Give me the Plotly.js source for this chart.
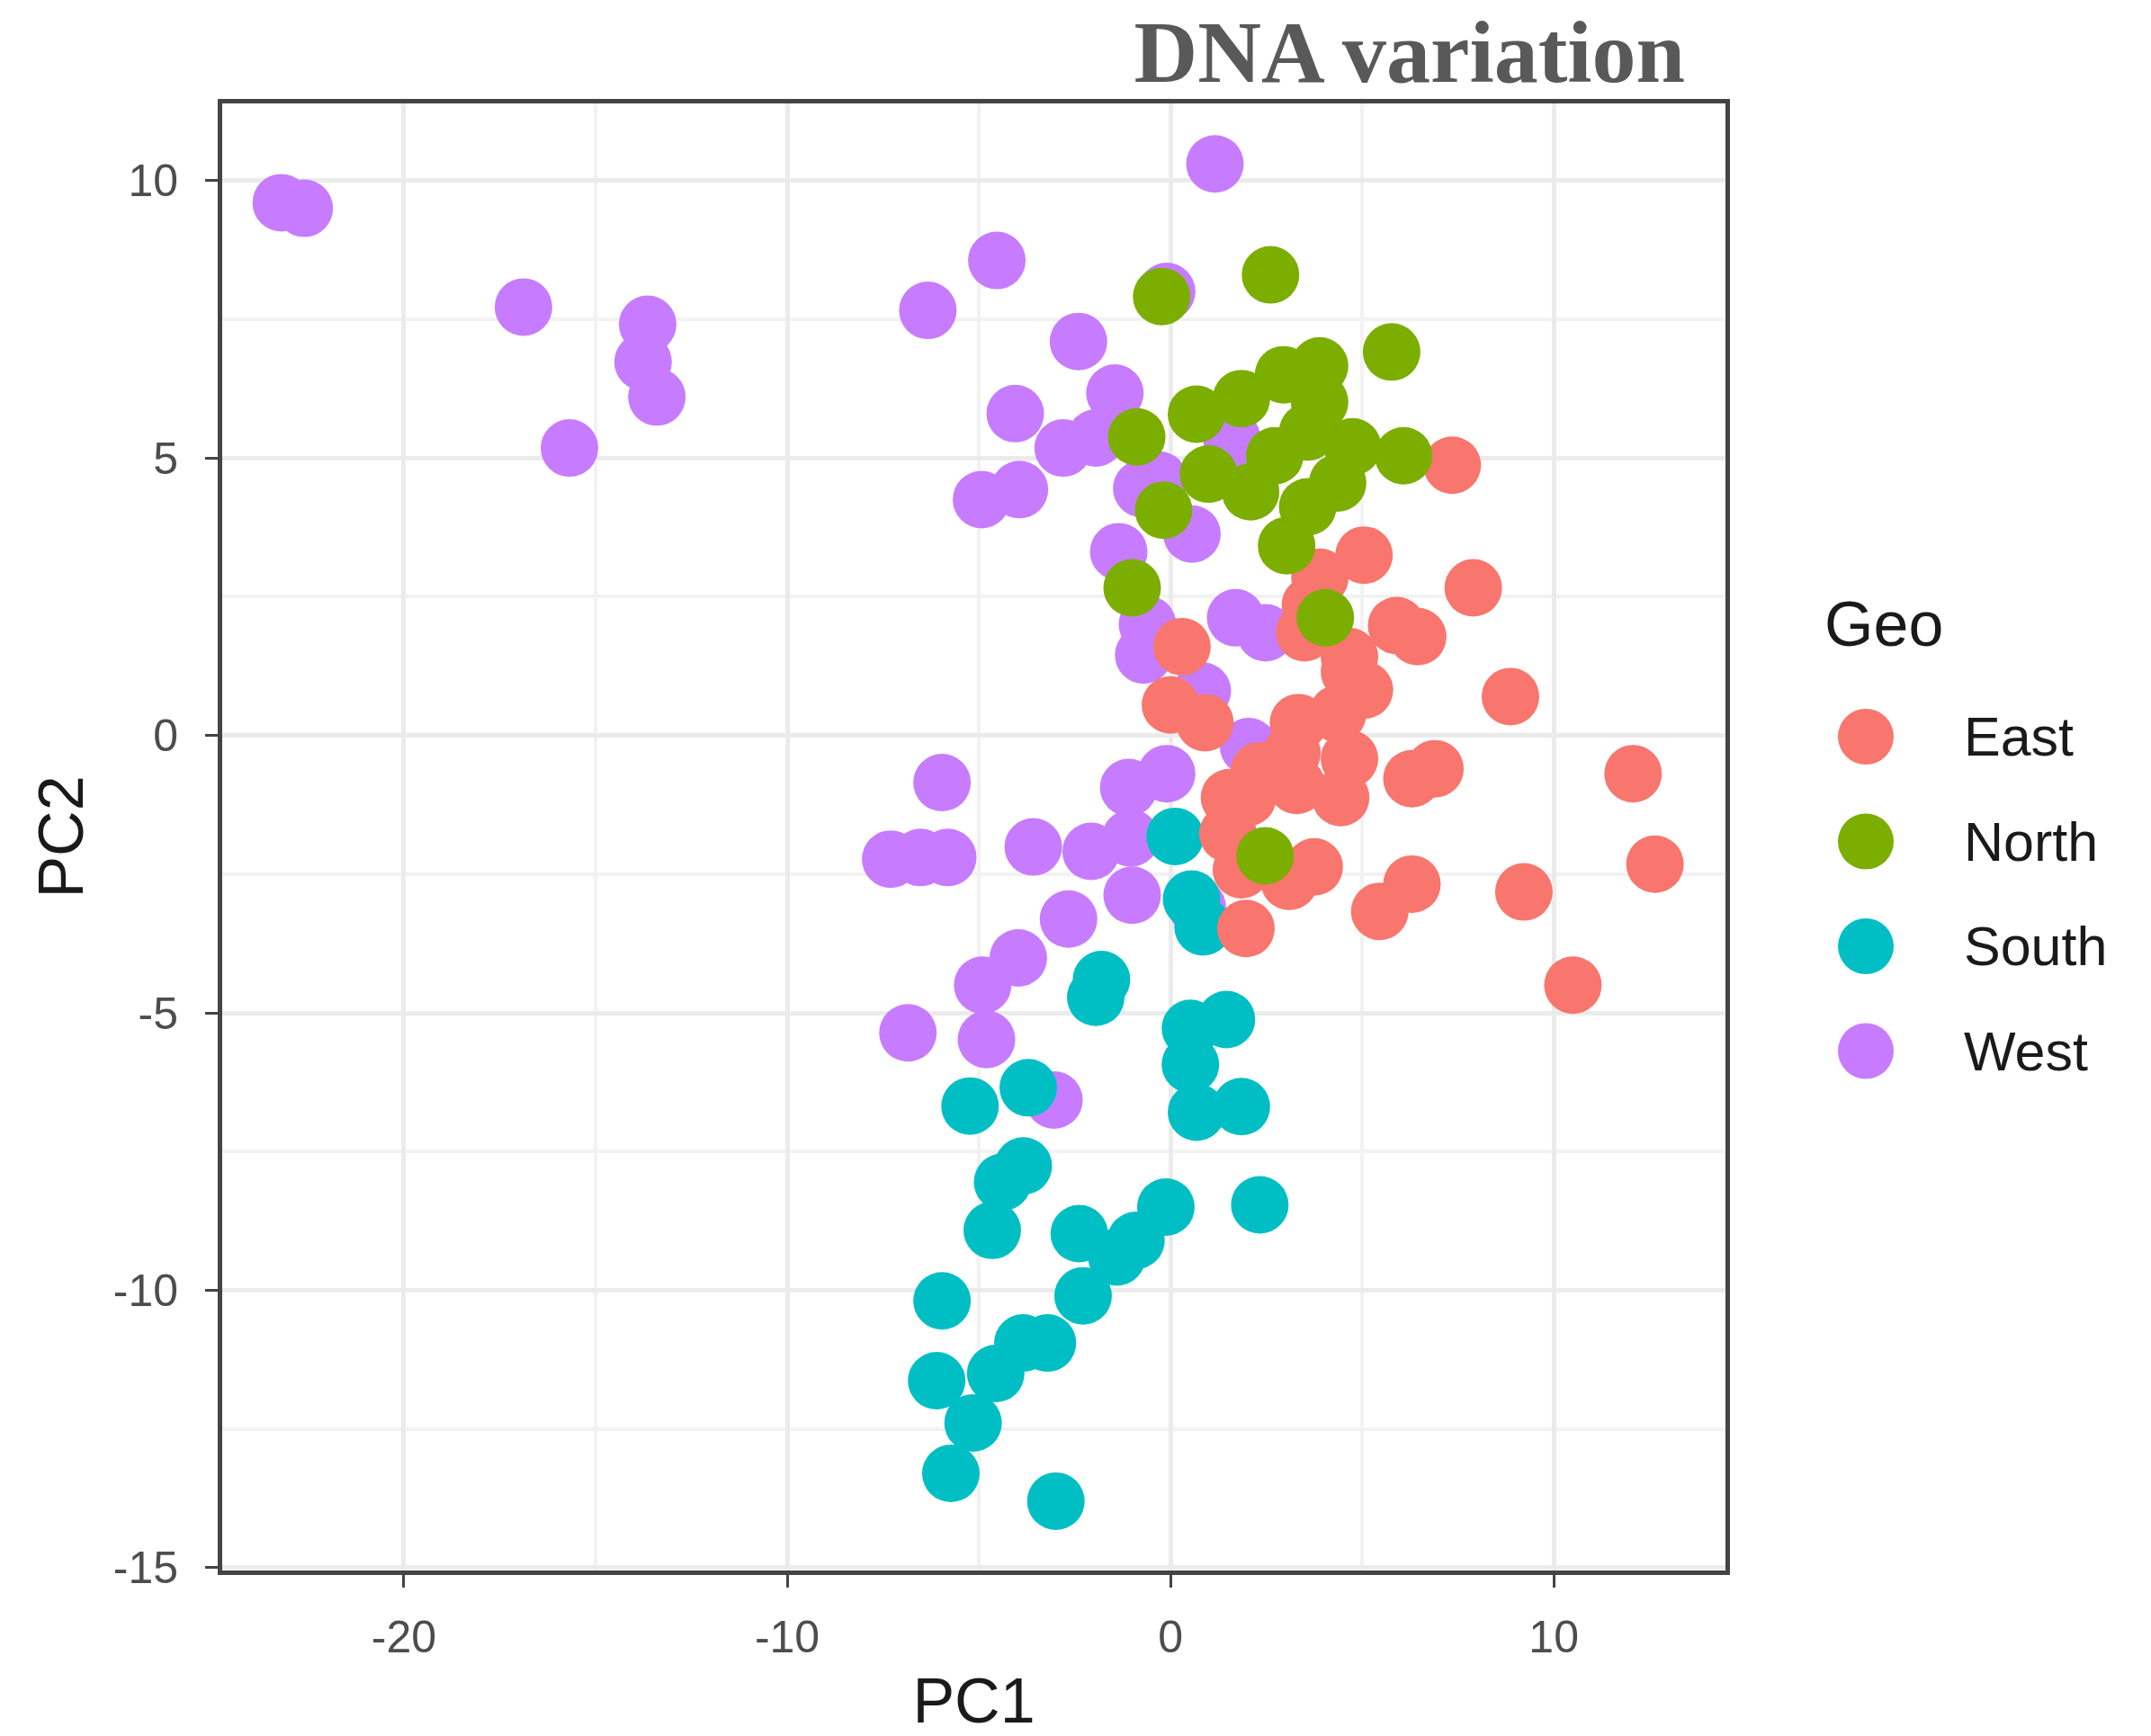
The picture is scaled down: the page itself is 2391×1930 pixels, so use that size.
<!DOCTYPE html>
<html>
<head>
<meta charset="utf-8">
<script src="https://cdn.plot.ly/plotly-3.0.1.min.js"></script>
<style>html,body{margin:0;padding:0;background:#fff;}#chart{width:2391px;height:1930px;}</style>
</head>
<body>
<div id="chart"></div>
<script>
// ---- Data (PC1, PC2 per group) ----
const groups = ["East", "North", "South", "West"];
const colors = ["#F8766D", "#7CAE00", "#00BFC4", "#C77CFF"];

const eastPC1 = [7.35, 5.05, 3.9, 3.65, 7.9, 5.9, 6.45, 3.5, 4.67, 4.67, 5.06, 0.3, 0.0, 0.9, 8.87, 4.36, 3.34, 4.67, 3.17, 2.32, 4.44, 3.29, 2.01, 1.54, 1.5, 6.3, 6.9, 12.07, 12.64, 9.22, 6.3, 5.46, 3.75, 3.1, 1.85, 1.97, 10.5];
const eastPC2 = [4.87, 3.25, 2.85, 2.35, 2.66, 1.98, 1.78, 1.85, 1.42, 1.15, 0.82, 1.6, 0.55, 0.23, 0.7, 0.39, 0.23, -0.42, -0.32, -0.64, -1.12, -0.9, -1.12, -1.12, -1.77, -0.78, -0.6, -0.69, -2.32, -2.82, -2.68, -3.17, -2.37, -2.63, -2.42, -3.48, -4.5];

const northPC1 = [-0.23, 2.61, 5.77, -0.88, -0.18, -1.0, 3.03, 4.75, 6.08, 4.04, 2.47, 3.89, 2.95, 1.85, 0.68, 3.89, 3.58, 2.72, 0.99, 2.09, 3.58, 4.36];
const northPC2 = [7.91, 8.3, 6.91, 5.38, 4.06, 2.66, 3.42, 5.2, 5.04, 2.12, -2.17, 6.66, 6.5, 6.07, 5.79, 6.01, 5.47, 5.04, 4.71, 4.39, 4.12, 4.55];

const southPC1 = [0.12, 0.55, 0.85, -1.95, -1.8, 1.46, 0.52, 0.52, 0.68, 1.85, -5.23, -3.71, -3.84, -4.38, -4.65, -0.12, 2.33, -2.38, -1.4, -0.9, -2.28, -5.96, -6.1, -4.56, -3.85, -3.21, -5.15, -5.73, -2.99];
const southPC2 = [-1.82, -2.95, -3.45, -4.72, -4.4, -5.12, -5.28, -5.93, -6.79, -6.69, -6.68, -6.35, -7.76, -8.05, -8.92, -8.5, -8.46, -8.98, -9.4, -9.1, -10.1, -10.19, -11.63, -11.5, -10.95, -10.95, -12.39, -13.3, -13.8];

const westPC1 = [-23.2, -22.6, -16.88, -15.68, -13.64, -13.76, -13.4, 1.16, -4.53, -6.33, -0.1, -2.4, -4.05, -1.45, -2.8, -1.95, -4.93, -3.94, -0.75, -0.3, 0.56, -1.35, 1.6, -0.6, -0.7, 1.7, 2.48, 0.83, 2.04, -5.96, -1.09, -0.1, -7.3, -6.52, -5.81, -3.58, -2.07, -1.04, -1.0, -2.66, 0.7, -3.97, -4.9, -6.85, -4.8, -3.04];
const westPC2 = [9.6, 9.5, 7.72, 5.18, 7.41, 6.73, 6.1, 10.3, 8.56, 7.66, 8.0, 7.1, 5.8, 6.17, 5.18, 5.36, 4.25, 4.43, 4.45, 4.6, 3.63, 3.31, 5.35, 2.0, 1.45, 2.12, 1.85, 0.8, -0.2, -0.85, -0.94, -0.69, -2.23, -2.2, -2.2, -2.01, -2.09, -1.85, -2.88, -3.31, -3.1, -4.01, -4.5, -5.36, -5.48, -6.57];

const xTicks = [-20, -10, 0, 10];
const yTicks = [-15, -10, -5, 0, 5, 10];
const chartTitle = "DNA variation";
const legendTitle = "Geo";

// ---- Traces ----
const seriesX = {East: eastPC1, North: northPC1, South: southPC1, West: westPC1};
const seriesY = {East: eastPC2, North: northPC2, South: southPC2, West: westPC2};
const drawOrder = ["West", "South", "East", "North"];

const traces = drawOrder.map(g => {
  const i = groups.indexOf(g);
  return {
    type: "scatter", mode: "markers", name: g,
    x: seriesX[g], y: seriesY[g],
    marker: {color: colors[i], size: 64, line: {width: 0}},
    showlegend: false, hoverinfo: "x+y+name"
  };
});

// ---- Layout geometry (pixels) ----
const W = 2391, H = 1930;
const mL = 247, mR = 473, mT = 115, mB = 184;
const plotW = W - mL - mR, plotH = H - mT - mB;
const px2paperX = px => (px - mL) / plotW;
const px2paperY = py => (H - mB - py) / plotH;

const textFont = "Liberation Sans, Arial, sans-serif";

// Manual legend (big markers like ggplot)
const legX = 2074, legTextX = 2181, legY0 = 819, legStep = 116.5;
const shapes = groups.map((g, i) => ({
  type: "circle", xref: "paper", yref: "paper",
  xsizemode: "pixel", ysizemode: "pixel",
  xanchor: px2paperX(legX), yanchor: px2paperY(legY0 + i * legStep),
  x0: -31, x1: 31, y0: -31, y1: 31,
  fillcolor: colors[i], line: {width: 0}
}));
const annotations = groups.map((g, i) => ({
  text: g, xref: "paper", yref: "paper", showarrow: false,
  x: px2paperX(legTextX), y: px2paperY(legY0 + i * legStep),
  xanchor: "left", yanchor: "middle",
  font: {family: textFont, size: 61, color: "#1a1a1a"}
}));
annotations.push({
  text: legendTitle, xref: "paper", yref: "paper", showarrow: false,
  x: px2paperX(2026), y: px2paperY(694), xanchor: "left", yanchor: "middle",
  font: {family: textFont, size: 70, color: "#1a1a1a"}
});

const axisCommon = {
  showline: true, mirror: true, linecolor: "#444444", linewidth: 5,
  showgrid: true, gridcolor: "#ebebeb", gridwidth: 5,
  zeroline: false, ticks: "outside", ticklen: 14, tickwidth: 3, tickcolor: "#444444",
  tickfont: {family: textFont, size: 50, color: "#4d4d4d"},
  tickmode: "array"
};

const layout = {
  width: W, height: H,
  margin: {l: mL, r: mR, t: mT, b: mB, pad: 0},
  paper_bgcolor: "#ffffff", plot_bgcolor: "#ffffff",
  showlegend: false,
  title: {
    text: "<b>" + chartTitle + "</b>",
    font: {family: "Liberation Serif, Times New Roman, serif", size: 98, color: "#595959"},
    xref: "container", yref: "container", x: 1873 / W, xanchor: "right",
    y: 1 - 57 / H, yanchor: "middle"
  },
  xaxis: Object.assign({}, axisCommon, {
    range: [-24.74, 14.48], tickvals: xTicks, ticktext: xTicks.map(String),
    minor: {showgrid: true, gridcolor: "#f2f2f2", gridwidth: 4, tickvals: [-15, -5, 5]},
    ticklabelstandoff: 12,
    title: {text: "PC1", font: {family: textFont, size: 70, color: "#1a1a1a"}, standoff: 26}
  }),
  yaxis: Object.assign({}, axisCommon, {
    range: [-15.05, 11.39], tickvals: yTicks, ticktext: yTicks.map(String),
    minor: {showgrid: true, gridcolor: "#f2f2f2", gridwidth: 4, tickvals: [-12.5, -7.5, -2.5, 2.5, 7.5]},
    ticklabelstandoff: 20,
    title: {text: "PC2", font: {family: textFont, size: 70, color: "#1a1a1a"}, standoff: 12}
  }),
  shapes: shapes,
  annotations: annotations
};

Plotly.newPlot("chart", traces, layout, {displayModeBar: false, staticPlot: true});
</script>
</body>
</html>
